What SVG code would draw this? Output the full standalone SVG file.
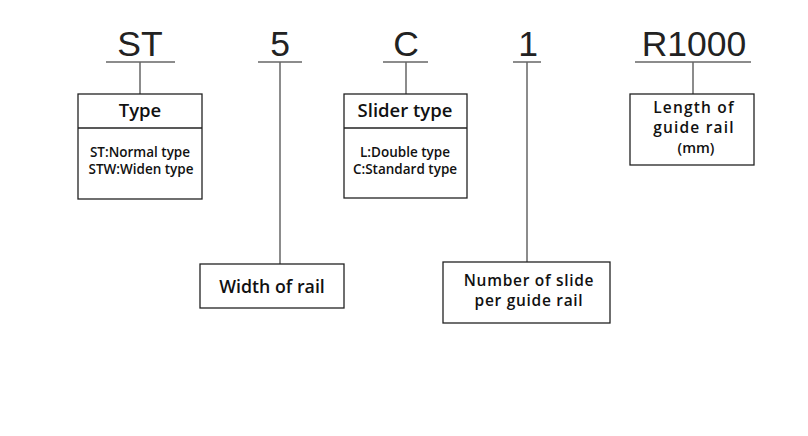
<svg xmlns="http://www.w3.org/2000/svg" width="808" height="436" viewBox="0 0 808 436">
<style>
.code{font-family:"Liberation Sans",Arial,sans-serif;font-size:35.5px;fill:#222;text-anchor:middle}
.ul{stroke:#666;stroke-width:1.5;fill:none}
.box{fill:#fff;stroke:#222;stroke-width:1.3}
.ttl{font-family:"Open Sans",sans-serif;font-weight:600;font-size:18.5px;fill:#111;text-anchor:middle}
.lbl{font-family:"Open Sans",sans-serif;font-weight:600;font-size:15.5px;fill:#111;text-anchor:middle;letter-spacing:0.7px}
.sm{font-family:"Open Sans",sans-serif;font-weight:600;font-size:13.5px;fill:#111;text-anchor:middle}
</style>
<rect width="808" height="436" fill="#fff"/>
<g id="connectors">
<line class="ul" x1="106" y1="62" x2="175" y2="62"/>
<line class="ul" x1="140" y1="62" x2="140" y2="94"/>
<line class="ul" x1="258" y1="62" x2="302" y2="62"/>
<line class="ul" x1="280" y1="62" x2="280" y2="264"/>
<line class="ul" x1="383" y1="62" x2="428" y2="62"/>
<line class="ul" x1="406" y1="62" x2="406" y2="94"/>
<line class="ul" x1="513" y1="62" x2="541" y2="62"/>
<line class="ul" x1="527" y1="62" x2="527" y2="262"/>
<line class="ul" x1="635" y1="62" x2="751" y2="62"/>
<line class="ul" x1="693" y1="62" x2="693" y2="94"/>
</g>
<g id="codes">
<text class="code" x="140" y="56">ST</text>
<text class="code" x="280" y="56">5</text>
<text class="code" x="406" y="56">C</text>
<text class="code" x="528" y="56">1</text>
<text class="code" x="694" y="56">R1000</text>
</g>
<g id="type">
<rect class="box" x="78" y="94" width="124" height="105"/>
<line class="box" x1="78" y1="128" x2="202" y2="128"/>
<text class="ttl" x="140" y="117">Type</text>
<text class="sm" x="140" y="157">ST:Normal type</text>
<text class="sm" x="141" y="174">STW:Widen type</text>
</g>
<g id="slider">
<rect class="box" x="344" y="94" width="123" height="104"/>
<line class="box" x1="344" y1="128" x2="467" y2="128"/>
<text class="ttl" x="405" y="117">Slider type</text>
<text class="sm" x="405" y="157">L:Double type</text>
<text class="sm" x="405" y="174">C:Standard type</text>
</g>
<g id="length">
<rect class="box" x="630" y="94" width="124" height="71"/>
<text class="lbl" x="694" y="113" style="letter-spacing:1.2px">Length of</text>
<text class="lbl" x="694" y="133" style="letter-spacing:1.2px">guide rail</text>
<text class="sm" x="696" y="153" style="font-size:14.5px">(mm)</text>
</g>
<g id="width">
<rect class="box" x="200" y="264" width="144" height="44"/>
<text class="lbl" x="272" y="293" style="font-size:17.8px;letter-spacing:0">Width of rail</text>
</g>
<g id="number">
<rect class="box" x="443" y="262" width="167" height="61"/>
<text class="lbl" x="529" y="286">Number of slide</text>
<text class="lbl" x="529" y="306">per guide rail</text>
</g>
</svg>
